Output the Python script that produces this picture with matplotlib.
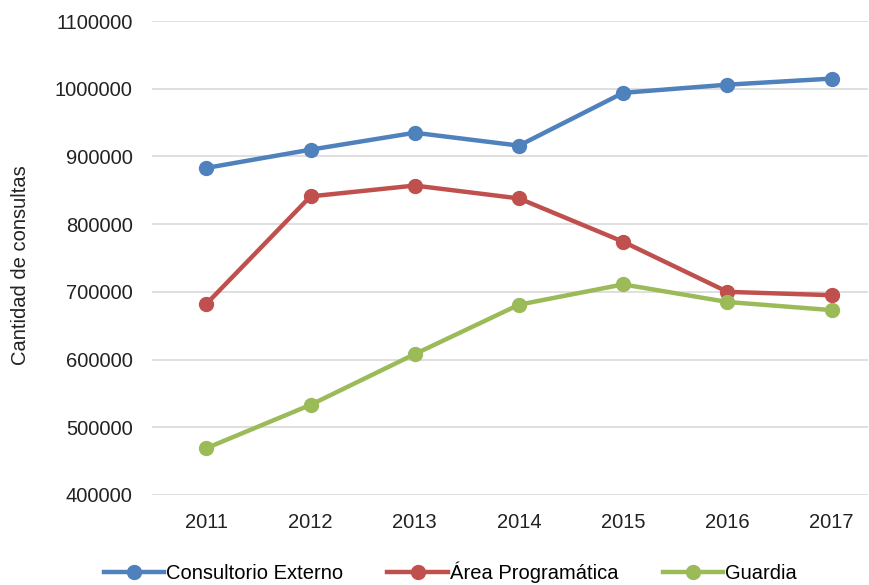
import matplotlib.pyplot as plt
from matplotlib.ticker import FuncFormatter

years = ['2011', '2012', '2013', '2014', '2015', '2016', '2017']
consultorio_externo = [883000, 910000, 935000, 916000, 994000, 1006000, 1015000]
area_programatica = [682000, 841000, 857000, 838000, 774000, 700000, 695000]
guardia = [469000, 533000, 608000, 681000, 711000, 685000, 673000]

plt.rcParams['font.family'] = ['Liberation Sans', 'DejaVu Sans']

fig = plt.figure(figsize=(8.69, 5.85), dpi=100)
ax = fig.add_axes([0.175, 0.154, 0.824, 0.81])

x = range(len(years))
ax.plot(x, consultorio_externo, color='#4F81BD', lw=3.2, marker='o', ms=10, label='Consultorio Externo')
ax.plot(x, area_programatica, color='#C0504D', lw=3.2, marker='o', ms=10, label='Área Programática')
ax.plot(x, guardia, color='#9BBB59', lw=3.2, marker='o', ms=10, label='Guardia')

ax.set_ylim(400000, 1100000)
ax.set_yticks(range(400000, 1100001, 100000))
ax.yaxis.set_major_formatter(FuncFormatter(lambda v, p: f'{int(v)}'))
ax.set_xlim(-0.52, 6.35)
ax.set_xticks(list(x))
ax.set_xticklabels(years)
ax.grid(axis='y', color='#D9D9D9', lw=1.2)
ax.set_axisbelow(True)
for s in ax.spines.values():
    s.set_visible(False)
ax.tick_params(length=0, labelsize=14.5, colors='#222222')
ax.tick_params(axis='x', pad=13)
ax.tick_params(axis='y', pad=14)
ax.set_ylabel('Cantidad de consultas', fontsize=14.5, color='#222222')
ax.yaxis.set_label_coords(-0.17, 0.485)

fig.legend(loc='center', ncol=3, frameon=False, fontsize=14.5,
           bbox_to_anchor=(0.518, 0.022), handlelength=3, columnspacing=2.2,
           handletextpad=0.1)

fig.savefig('out.png', dpi=100)
